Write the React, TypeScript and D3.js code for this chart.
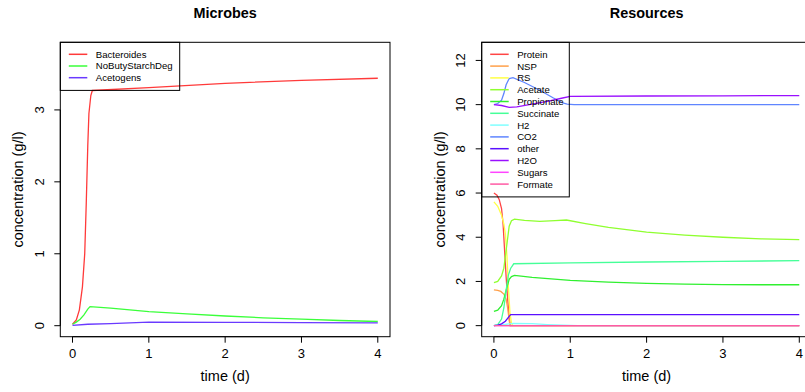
import React from "react";
import * as d3 from "d3";

// ---------- Data ----------
const microbeNames = ["Bacteroides", "NoButyStarchDeg", "Acetogens"];
const microbeColors = ["#ff3a3a", "#3aff3a", "#6a3aff"];

const bacteroidesT = [0, 0.05, 0.09, 0.13, 0.16, 0.18, 0.2, 0.215, 0.24, 0.26, 1, 2, 3, 4];
const bacteroidesV = [0.02, 0.08, 0.22, 0.54, 1.0, 1.7, 2.5, 2.95, 3.2, 3.27, 3.31, 3.37, 3.41, 3.44];

const nobutyT = [0, 0.05, 0.1, 0.15, 0.2, 0.23, 0.5, 1, 1.5, 2, 2.5, 3, 3.5, 4];
const nobutyV = [0.02, 0.05, 0.09, 0.15, 0.23, 0.265, 0.245, 0.195, 0.165, 0.135, 0.11, 0.09, 0.072, 0.058];

const acetoT = [0, 0.2, 0.5, 1, 2, 3, 4];
const acetoV = [0.005, 0.02, 0.03, 0.05, 0.046, 0.043, 0.04];

const resourceNames = ["Protein", "NSP", "RS", "Acetate", "Propionate", "Succinate", "H2", "CO2", "other", "H2O", "Sugars", "Formate"];
const resourceColors = ["#ff4545", "#ffa04a", "#ffff45", "#8fff30", "#30f030", "#45ff98", "#80ffff", "#5f85ff", "#5a10ff", "#9a10ff", "#ff45ff", "#ff5aa5"];

const proteinT = [0, 0.04, 0.07, 0.1, 0.12, 0.14, 0.16, 0.18, 0.2, 0.215, 0.25, 4];
const proteinV = [6.0, 5.9, 5.7, 5.3, 4.6, 3.4, 2.2, 1.2, 0.35, 0, 0, 0];

const nspT = [0, 0.05, 0.09, 0.13, 0.16, 0.18, 0.2, 0.21, 4];
const nspV = [1.62, 1.6, 1.55, 1.43, 1.2, 0.8, 0.25, 0, 0];

const rsT = [0, 0.05, 0.1, 0.13, 0.15, 0.17, 0.19, 0.21, 0.23, 0.25, 4];
const rsV = [5.6, 5.4, 5.0, 4.6, 4.15, 3.2, 1.7, 0.6, 0.1, 0, 0];

const acetateT = [0, 0.05, 0.1, 0.13, 0.16, 0.2, 0.23, 0.27, 0.4, 0.6, 0.8, 0.95, 1.2, 1.5, 2, 2.5, 3, 3.5, 4];
const acetateV = [1.95, 2.0, 2.25, 2.6, 3.4, 4.5, 4.75, 4.82, 4.76, 4.72, 4.75, 4.78, 4.62, 4.45, 4.23, 4.1, 4.0, 3.93, 3.89];

const propionateT = [0, 0.05, 0.1, 0.13, 0.16, 0.2, 0.23, 0.27, 0.5, 1, 1.5, 2, 2.5, 3, 3.5, 4];
const propionateV = [0.65, 0.7, 0.9, 1.2, 1.6, 2.1, 2.22, 2.27, 2.18, 2.05, 1.97, 1.91, 1.88, 1.86, 1.85, 1.85];

const succinateT = [0, 0.05, 0.1, 0.13, 0.16, 0.19, 0.22, 0.26, 1, 2, 3, 4];
const succinateV = [0, 0.05, 0.3, 0.8, 1.6, 2.3, 2.6, 2.8, 2.84, 2.88, 2.91, 2.94];

const h2T = [0, 0.1, 0.2, 0.25, 0.5, 0.7, 0.9, 1.1, 4];
const h2V = [0, 0.03, 0.08, 0.1, 0.09, 0.05, 0.02, 0, 0];

const co2T = [0, 0.05, 0.1, 0.13, 0.16, 0.2, 0.25, 0.4, 0.6, 0.78, 0.9, 0.96, 1.05, 4];
const co2V = [10.0, 10.05, 10.2, 10.5, 10.9, 11.18, 11.22, 11.0, 10.65, 10.3, 10.08, 10.02, 10.0, 10.0];

const otherT = [0, 0.05, 0.1, 0.15, 0.2, 0.22, 4];
const otherV = [0, 0.02, 0.08, 0.2, 0.42, 0.5, 0.5];

const h2oT = [0, 0.1, 0.2, 0.3, 0.5, 0.7, 0.9, 1, 2, 3, 4];
const h2oV = [10.0, 9.96, 9.88, 9.9, 10.02, 10.15, 10.3, 10.37, 10.39, 10.4, 10.41];

const sugarsT = [0, 4];
const sugarsV = [0, 0];

const formateT = [0, 4];
const formateV = [0, 0];

const xTicks = [0, 1, 2, 3, 4];
const microbeYTicks = [0, 1, 2, 3];
const resourceYTicks = [0, 2, 4, 6, 8, 10, 12];

type Series = { name: string; color: string; t: number[]; v: number[] };

const microbeSeries: Series[] = [
  { name: microbeNames[0], color: microbeColors[0], t: bacteroidesT, v: bacteroidesV },
  { name: microbeNames[1], color: microbeColors[1], t: nobutyT, v: nobutyV },
  { name: microbeNames[2], color: microbeColors[2], t: acetoT, v: acetoV },
];

const resourceData: [number[], number[]][] = [
  [proteinT, proteinV], [nspT, nspV], [rsT, rsV], [acetateT, acetateV], [propionateT, propionateV],
  [succinateT, succinateV], [h2T, h2V], [co2T, co2V], [otherT, otherV], [h2oT, h2oV],
  [sugarsT, sugarsV], [formateT, formateV],
];
const resourceSeries: Series[] = resourceNames.map((n, i) => ({
  name: n, color: resourceColors[i], t: resourceData[i][0], v: resourceData[i][1],
}));

const FONT = "'Liberation Sans', Arial, Helvetica, sans-serif";

type PanelProps = {
  id: string;
  title: string;
  left: number;
  right: number;
  xDomain: [number, number];
  yDomain: [number, number];
  yTicks: number[];
  series: Series[];
  legendWidth: number;
  legendRowH: number;
};

const TOP = 42.3;
const BOTTOM = 336.7;

function Panel({ id, title, left, right, xDomain, yDomain, yTicks, series, legendWidth, legendRowH }: PanelProps) {
  const x = d3.scaleLinear().domain(xDomain).range([left, right]);
  const y = d3.scaleLinear().domain(yDomain).range([BOTTOM, TOP]);
  const line = d3.line<[number, number]>().x((d) => x(d[0])).y((d) => y(d[1]));
  const cx = (left + right) / 2;
  const cy = (TOP + BOTTOM) / 2;
  const legendH = 12 + series.length * legendRowH + 1;
  return (
    <g>
      <defs>
        <clipPath id={id}>
          <rect x={left} y={TOP} width={right - left} height={BOTTOM - TOP} />
        </clipPath>
      </defs>
      <text x={cx} y={18} textAnchor="middle" fontWeight="bold" fontSize={14.4} fontFamily={FONT}>{title}</text>
      <g clipPath={`url(#${id})`}>
        {series.map((s) => (
          <path key={s.name} d={line(s.t.map((t, i) => [t, s.v[i]] as [number, number])) || ""} fill="none" stroke={s.color} strokeWidth={1.3} />
        ))}
      </g>
      <rect x={left} y={TOP} width={right - left} height={BOTTOM - TOP} fill="none" stroke="#000" strokeWidth={1} />
      {/* x axis */}
      <line x1={x(xTicks[0])} x2={x(xTicks[xTicks.length - 1])} y1={BOTTOM} y2={BOTTOM} stroke="#000" />
      {xTicks.map((t) => (
        <g key={t}>
          <line x1={x(t)} x2={x(t)} y1={BOTTOM} y2={BOTTOM + 6} stroke="#000" />
          <text x={x(t)} y={358} textAnchor="middle" fontSize={13} fontFamily={FONT}>{t}</text>
        </g>
      ))}
      {/* y axis */}
      <line x1={left} x2={left} y1={y(yTicks[0])} y2={y(yTicks[yTicks.length - 1])} stroke="#000" />
      {yTicks.map((t) => (
        <g key={t}>
          <line x1={left} x2={left - 6} y1={y(t)} y2={y(t)} stroke="#000" />
          <text transform={`translate(${left - 16.5},${y(t)}) rotate(-90)`} textAnchor="middle" fontSize={13} fontFamily={FONT}>{t}</text>
        </g>
      ))}
      <text x={cx} y={381} textAnchor="middle" fontSize={14.5} fontFamily={FONT}>time (d)</text>
      <text transform={`translate(${left - 37},${cy}) rotate(-90)`} textAnchor="middle" fontSize={14.5} fontFamily={FONT}>concentration (g/l)</text>
      {/* legend */}
      <rect x={left} y={TOP} width={legendWidth} height={legendH} fill="none" stroke="#000" strokeWidth={1} />
      {series.map((s, i) => {
        const ly = TOP + 12 + i * legendRowH;
        return (
          <g key={s.name}>
            <line x1={left + 8.5} x2={left + 27} y1={ly} y2={ly} stroke={s.color} strokeWidth={1.5} />
            <text x={left + 35.5} y={ly + 3.4} fontSize={9.6} fontFamily={FONT}>{s.name}</text>
          </g>
        );
      })}
    </g>
  );
}

export default function App() {
  return (
    <svg width={805} height={392} style={{ position: "absolute", left: 0, top: 0, background: "#fff" }}>
      <rect x={0} y={0} width={805} height={392} fill="#fff" />
      <Panel
        id="clipA"
        title="Microbes"
        left={60.3}
        right={390}
        xDomain={[-0.16, 4.16]}
        yDomain={[-0.153, 3.94]}
        yTicks={microbeYTicks}
        series={microbeSeries}
        legendWidth={119.4}
        legendRowH={11.7}
      />
      <Panel
        id="clipB"
        title="Resources"
        left={481.7}
        right={811.5}
        xDomain={[-0.16, 4.16]}
        yDomain={[-0.5, 12.82]}
        yTicks={resourceYTicks}
        series={resourceSeries}
        legendWidth={87.6}
        legendRowH={11.8}
      />
    </svg>
  );
}
